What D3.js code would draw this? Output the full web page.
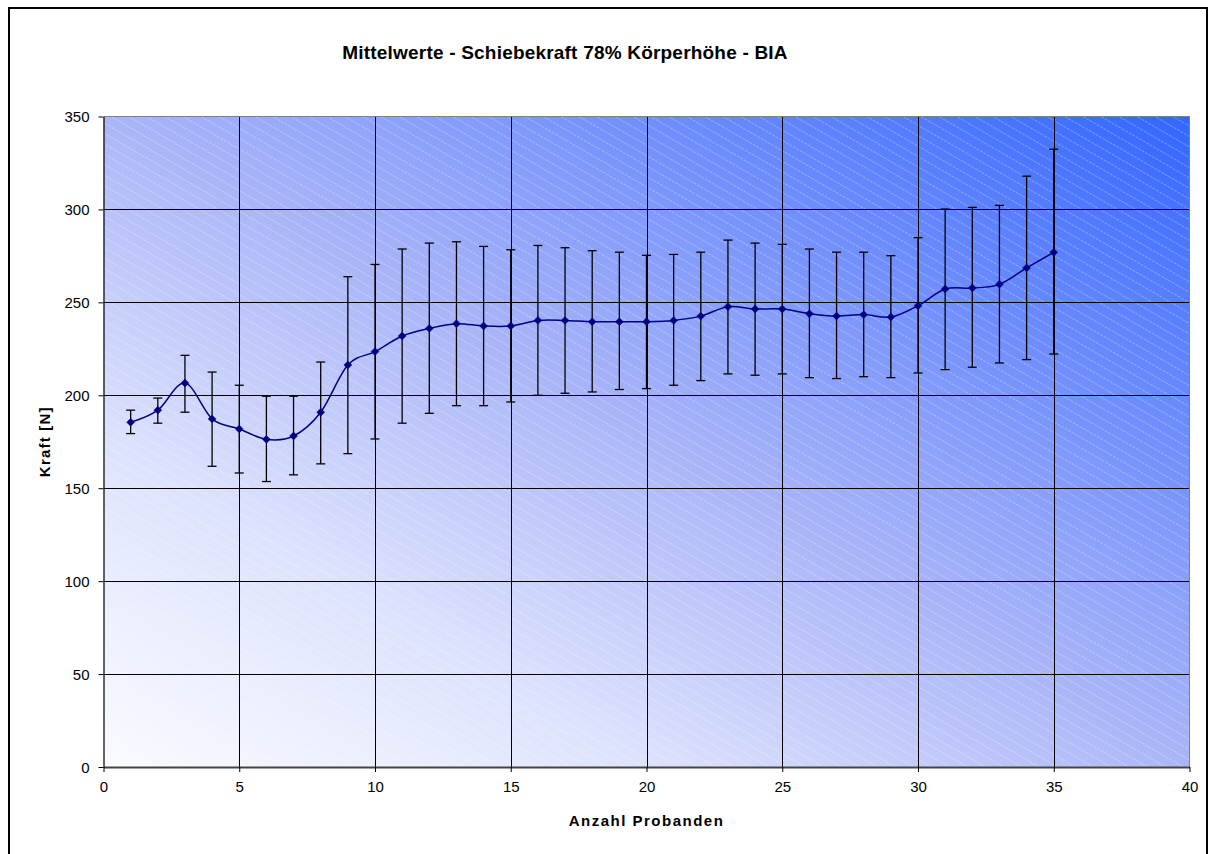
<!DOCTYPE html>
<html>
<head>
<meta charset="utf-8">
<script src="https://cdn.jsdelivr.net/npm/d3@7"></script>
<style>
  html, body { margin: 0; padding: 0; background: #ffffff; }
  svg { display: block; font-family: "Liberation Sans", Arial, sans-serif; }
</style>
</head>
<body>
<svg id="chart" width="1216" height="854"></svg>
<script>
// ---- data ----
const probanden = [1,2,3,4,5,6,7,8,9,10,11,12,13,14,15,16,17,18,19,20,21,22,23,24,25,26,27,28,29,30,31,32,33,34,35];
const mittelwert = [185.5,192,206.6,187.3,181.9,176.3,178.1,190.9,216.3,223.5,231.9,236,238.5,237.3,237.3,240.3,240.3,239.6,239.6,239.6,240.3,242.6,247.7,246.4,246.4,243.9,242.6,243.4,242.1,248.2,257.2,257.7,259.7,268.5,276.9];
const oberGrenze = [192,198.5,221.5,212.5,205.4,199.5,199.5,217.9,263.8,270.4,278.7,281.9,282.6,280.1,278.3,280.6,279.4,277.8,277,275.3,275.8,277,283.5,281.9,281.2,278.7,277,277,275.1,284.8,300.2,301.1,302.2,317.9,332.4];
const unterGrenze = [179.4,185,190.9,161.8,158.2,153.6,157.2,163.1,168.6,176.5,185,190.3,194.4,194.4,196.4,200,201.1,201.8,203.1,203.6,205.4,207.9,211.5,210.8,211.5,209.5,209,210,209.5,212,213.8,215.1,217.4,219.2,222.2];
const xTicks = [0,5,10,15,20,25,30,35,40];
const yTicks = [0,50,100,150,200,250,300,350];
const titleText = "Mittelwerte - Schiebekraft 78% Körperhöhe - BIA";
const xLabel = "Anzahl Probanden";
const yLabel = "Kraft [N]";

const data = probanden.map((p, i) => ({ x: p, m: mittelwert[i], hi: oberGrenze[i], lo: unterGrenze[i] }));

// ---- layout ----
const svg = d3.select("#chart");
const L = 103.5, R = 1189.5, T = 116.5, B = 767;
const x = d3.scaleLinear().domain([0, 40]).range([L, R]);
const y = d3.scaleLinear().domain([0, 350]).range([B, T]);

// outer frame
svg.append("rect").attr("x", 9).attr("y", 8).attr("width", 1198).attr("height", 880)
  .attr("fill", "#fff").attr("stroke", "#000").attr("stroke-width", 2);

const defs = svg.append("defs");
const grad = defs.append("linearGradient").attr("id", "bg")
  .attr("x1", 0).attr("y1", 1).attr("x2", 1).attr("y2", 0);
grad.append("stop").attr("offset", "0").attr("stop-color", "#fafbff");
grad.append("stop").attr("offset", "0.25").attr("stop-color", "#dde3fd");
grad.append("stop").attr("offset", "0.5").attr("stop-color", "#abb6f8");
grad.append("stop").attr("offset", "1").attr("stop-color", "#3366ff");

const pat = defs.append("pattern").attr("id", "stripes")
  .attr("patternUnits", "userSpaceOnUse").attr("width", 20).attr("height", 9)
  .attr("patternTransform", "rotate(30)");
pat.append("line").attr("x1", 0).attr("y1", 0.5).attr("x2", 20).attr("y2", 0.5)
  .attr("stroke", "#ffffff").attr("stroke-opacity", 0.28).attr("stroke-width", 1)
  .attr("stroke-dasharray", "3,1");

svg.append("rect").attr("x", L).attr("y", T).attr("width", R - L).attr("height", B - T)
  .attr("fill", "url(#bg)");
svg.append("rect").attr("x", L).attr("y", T).attr("width", R - L).attr("height", B - T)
  .attr("fill", "url(#stripes)");

// gridlines
const grid = svg.append("g").attr("shape-rendering", "crispEdges");
grid.selectAll(".hg").data(yTicks.filter(d => d > 0 && d < 350)).enter().append("line")
  .attr("x1", L).attr("x2", R).attr("y1", d => Math.round(y(d)) + 0.5).attr("y2", d => Math.round(y(d)) + 0.5)
  .attr("stroke", "#000").attr("stroke-width", 1);
grid.selectAll(".vg").data(xTicks.filter(d => d > 0 && d < 40)).enter().append("line")
  .attr("y1", T).attr("y2", B).attr("x1", d => Math.round(x(d)) + 0.5).attr("x2", d => Math.round(x(d)) + 0.5)
  .attr("stroke", "#000").attr("stroke-width", 1);

// plot border top/right (gray)
grid.append("line").attr("x1", L).attr("x2", R).attr("y1", T).attr("y2", T).attr("stroke", "#808080").attr("stroke-width", 1);
grid.append("line").attr("x1", R).attr("x2", R).attr("y1", T).attr("y2", B).attr("stroke", "#808080").attr("stroke-width", 1);

// axes
const xAxis = d3.axisBottom(x).tickValues(xTicks).tickSize(5).tickPadding(9).tickSizeOuter(0);
const yAxis = d3.axisLeft(y).tickValues(yTicks).tickSize(5).tickPadding(9).tickSizeOuter(0);
const gx = svg.append("g").attr("transform", `translate(0,${B})`).call(xAxis);
const gy = svg.append("g").attr("transform", `translate(${L},0)`).call(yAxis);
[gx, gy].forEach(g => {
  g.select(".domain").attr("stroke", "#000").attr("stroke-width", 1.2);
  g.selectAll(".tick line").attr("stroke", "#000");
  g.selectAll("text").attr("fill", "#000").style("font-size", "15px")
    .style("font-family", "'Liberation Sans', Arial, sans-serif");
});
gx.select(".domain").attr("stroke", "#444").attr("stroke-width", 2);
gy.selectAll("text").attr("dy", "0.36em");
gx.selectAll("text").attr("dy", "0.72em");

// error bars
const eb = svg.append("g").attr("stroke", "#000").attr("stroke-width", 1.3);
eb.selectAll(".ev").data(data).enter().append("line")
  .attr("x1", d => x(d.x)).attr("x2", d => x(d.x)).attr("y1", d => y(d.hi)).attr("y2", d => y(d.lo));
eb.selectAll(".ct").data(data).enter().append("line")
  .attr("x1", d => x(d.x) - 4.5).attr("x2", d => x(d.x) + 4.5).attr("y1", d => y(d.hi)).attr("y2", d => y(d.hi));
eb.selectAll(".cb").data(data).enter().append("line")
  .attr("x1", d => x(d.x) - 4.5).attr("x2", d => x(d.x) + 4.5).attr("y1", d => y(d.lo)).attr("y2", d => y(d.lo));

// smoothed line
const line = d3.line().x(d => x(d.x)).y(d => y(d.m)).curve(d3.curveCatmullRom.alpha(0));
svg.append("path").datum(data).attr("d", line).attr("fill", "none")
  .attr("stroke", "#000080").attr("stroke-width", 1.5);

// diamond markers
const diamond = d3.symbol().type(d3.symbolDiamond2).size(40);
svg.selectAll(".mk").data(data).enter().append("path")
  .attr("d", diamond).attr("transform", d => `translate(${x(d.x)},${y(d.m)})`)
  .attr("fill", "#000080").attr("stroke", "#000080").attr("stroke-width", 0.5);

// titles
svg.append("text").attr("x", 565).attr("y", 59).attr("text-anchor", "middle")
  .style("font-size", "19px").style("font-weight", "bold").style("letter-spacing", "0.2px")
  .text(titleText);
svg.append("text").attr("x", (L + R) / 2).attr("y", 826).attr("text-anchor", "middle")
  .style("font-size", "15px").style("font-weight", "bold").style("letter-spacing", "1.5px")
  .text(xLabel);
svg.append("text").attr("transform", `translate(50,${(T + B) / 2}) rotate(-90)`).attr("text-anchor", "middle")
  .style("font-size", "15px").style("font-weight", "bold").style("letter-spacing", "1.2px")
  .text(yLabel);
</script>
</body>
</html>
